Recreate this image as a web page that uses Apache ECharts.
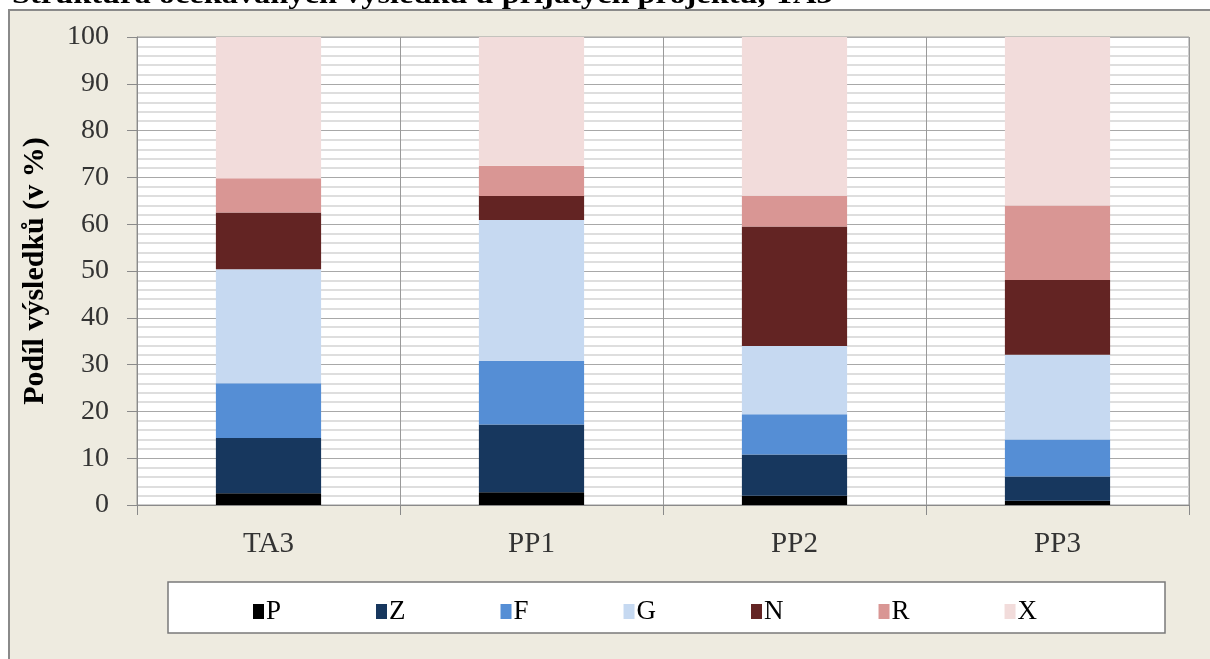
<!DOCTYPE html>
<html>
<head>
<meta charset="utf-8">
<script src="https://cdn.jsdelivr.net/npm/echarts@6/dist/echarts.min.js"></script>
<style>
  html, body { margin: 0; padding: 0; background: #ffffff; }
  #main { width: 1210px; height: 659px; }
</style>
</head>
<body>
<div id="main"></div>
<script>
// categories on the x axis
const categories = ["TA3", "PP1", "PP2", "PP3"];

// share of each result type (in %), one array per stacked segment
const valuesP = [2.5, 2.7, 2.0, 0.9];
const valuesZ = [11.8, 14.5, 8.8, 5.2];
const valuesF = [11.7, 13.6, 8.6, 7.9];
const valuesG = [24.4, 30.1, 14.6, 18.1];
const valuesN = [12.1, 5.1, 25.5, 16.0];
const valuesR = [7.3, 6.5, 6.6, 15.9];
const valuesX = [30.2, 27.5, 33.9, 36.0];

const seriesNames = ["P", "Z", "F", "G", "N", "R", "X"];
const seriesValues = [valuesP, valuesZ, valuesF, valuesG, valuesN, valuesR, valuesX];
const seriesColors = ["#000000", "#17375e", "#558ed5", "#c6d9f1", "#632423", "#d99694", "#f2dcdb"];

const font = "'Liberation Serif', 'DejaVu Serif', serif";

var myChart = echarts.init(document.getElementById("main"));

var option = {
  backgroundColor: "#ffffff",
  animation: false,
  textStyle: { fontFamily: font },
  graphic: [
    // grey panel behind the chart
    {
      type: "rect",
      z: -100,
      silent: true,
      shape: { x: 9, y: 10, width: 1220, height: 670 },
      style: { fill: "#eeebe0", stroke: "#8a8a8a", lineWidth: 2 },
    },
    // title, cut off at the top of the picture (a bit stretched, like the original)
    {
      type: "text",
      z: 100,
      x: 12,
      y: -17,
      scaleX: 1.2,
      style: {
        text: "Struktura očekávaných výsledků u přijatých projektů, TA3",
        font: "bold 27px " + font,
        fill: "#000000",
      },
    },
    // legend frame
    {
      type: "rect",
      z: -50,
      silent: true,
      shape: { x: 168, y: 582, width: 997, height: 51 },
      style: { fill: "#ffffff", stroke: "#7a7a7a", lineWidth: 1.5 },
    },
  ],
  legend: {
    left: 248,
    top: 593,
    itemWidth: 11,
    itemHeight: 15,
    itemGap: 95,
    icon: "rect",
    textStyle: { fontFamily: font, fontSize: 27, color: "#000000", padding: [0, 0, 0, -3] },
    data: seriesNames,
  },
  grid: {
    left: 137,
    right: 21,
    top: 37,
    bottom: 154,
    show: true,
    backgroundColor: "#ffffff",
    borderColor: "#9a9a9a",
    borderWidth: 1,
  },
  xAxis: {
    type: "category",
    data: categories,
    axisLine: { lineStyle: { color: "#8a8a8a", width: 1 } },
    axisTick: { show: true, length: 10, lineStyle: { color: "#8a8a8a" } },
    axisLabel: { margin: 25, fontSize: 29, color: "#333333", fontFamily: font },
    splitLine: { show: true, lineStyle: { color: "#9a9a9a", width: 1 } },
  },
  yAxis: {
    type: "value",
    min: 0,
    max: 100,
    interval: 10,
    name: "Podíl výsledků (v %)",
    nameLocation: "middle",
    nameGap: 87,
    nameTextStyle: { fontFamily: font, fontSize: 30, fontWeight: "bold", color: "#000000" },
    axisLine: { show: true, lineStyle: { color: "#8a8a8a", width: 1 } },
    axisTick: { show: true, length: 10, lineStyle: { color: "#8a8a8a" } },
    axisLabel: { margin: 28, fontSize: 28, color: "#333333", fontFamily: font },
    splitLine: { show: true, lineStyle: { color: "#a8a8a8", width: 1 } },
    minorTick: { show: false, splitNumber: 5 },
    minorSplitLine: { show: true, lineStyle: { color: "#d4d4d4", width: 1.5 } },
  },
  series: seriesNames.map(function (name, i) {
    return {
      name: name,
      type: "bar",
      stack: "total",
      barWidth: "40%",
      itemStyle: { color: seriesColors[i] },
      data: seriesValues[i],
    };
  }),
};

myChart.setOption(option);
</script>
</body>
</html>
